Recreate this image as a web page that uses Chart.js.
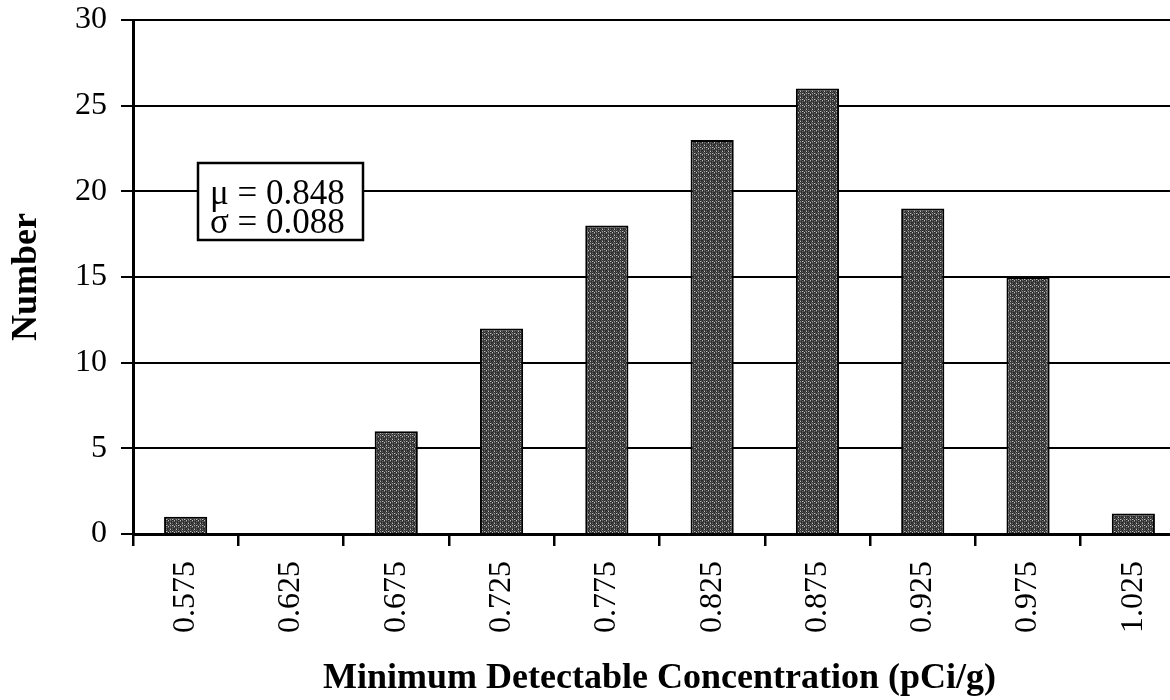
<!DOCTYPE html>
<html>
<head>
<meta charset="utf-8">
<script src="https://cdn.jsdelivr.net/npm/chart.js@4.4.1/dist/chart.umd.min.js"></script>
<style>
    html, body { margin: 0; padding: 0; background: #fff; overflow: hidden; }
    #wrap { width: 1170px; height: 700px; overflow: hidden; }
</style>
</head>
<body>
<div id="wrap"><canvas id="mdcChart" width="1188" height="700"></canvas></div>
<script>
// histogram bins (pCi/g) and counts
var binLabels = ['0.575', '0.625', '0.675', '0.725', '0.775', '0.825', '0.875', '0.925', '0.975', '1.025'];
var binCounts = [1, 0, 6, 12, 18, 23, 26, 19, 15, 1.2];
var yTicks = { min: 0, max: 30, step: 5 };
var statsLines = ['\u03bc = 0.848', '\u03c3 = 0.088'];

var serif = "'Liberation Serif', 'Times New Roman', serif";

// grey stipple like the scanned bars
function makeStipple() {
    var rows = [
        'dkmdkd',
        'kdhdmd',
        'dmdkdk',
        'dkldhm',
        'hdmkdd',
        'mdkdmk'
    ];
    var shade = { d: '#2c2c2c', k: '#474747', m: '#666666', l: '#959595', h: '#c0c0c0' };
    var c = document.createElement('canvas');
    c.width = 6; c.height = 6;
    var g = c.getContext('2d');
    for (var y = 0; y < 6; y++) {
        for (var x = 0; x < 6; x++) {
            g.fillStyle = shade[rows[y][x]];
            g.fillRect(x, y, 1, 1);
        }
    }
    return g.createPattern(c, 'repeat');
}

// text box with mean / sigma
var statsBox = {
    id: 'statsBox',
    afterDatasetsDraw: function(chart) {
        var ctx = chart.ctx;
        var area = chart.chartArea;
        var x0 = area.left + 65, y0 = area.top + 143;
        ctx.save();
        ctx.fillStyle = '#fff';
        ctx.fillRect(x0, y0, 165, 77);
        ctx.strokeStyle = '#000';
        ctx.lineWidth = 2.5;
        ctx.strokeRect(x0, y0, 165, 77);
        ctx.fillStyle = '#000';
        ctx.font = '35px ' + serif;
        ctx.textBaseline = 'alphabetic';
        ctx.fillText(statsLines[0], x0 + 12, y0 + 41);
        ctx.fillText(statsLines[1], x0 + 12, y0 + 70);
        ctx.restore();
    }
};

function noEdgePadding(s) {
    s.paddingTop = 0;
    s.paddingBottom = 0;
}

function initChart() {
    var el = document.getElementById('mdcChart');
    var stipple = makeStipple();
    new Chart(el, {
        type: 'bar',
        data: {
            labels: binLabels,
            datasets: [{
                data: binCounts,
                backgroundColor: stipple,
                borderColor: '#000',
                borderWidth: 2,
                barPercentage: 0.41,
                categoryPercentage: 1
            }]
        },
        options: {
            responsive: false,
            animation: false,
            layout: { padding: { top: 20, right: 2, left: 0, bottom: 0 } },
            plugins: {
                legend: { display: false },
                tooltip: { enabled: false }
            },
            scales: {
                x: {
                    offset: true,
                    grid: { offset: true, drawOnChartArea: false, color: '#000', lineWidth: 2.5, tickLength: 12 },
                    border: { color: '#000', width: 3 },
                    ticks: {
                        minRotation: 90, maxRotation: 90, padding: 15,
                        color: '#000',
                        font: { family: serif, size: 32 }
                    },
                    title: {
                        display: true,
                        text: 'Minimum Detectable Concentration (pCi/g)',
                        color: '#000',
                        font: { family: serif, size: 36, weight: 'bold' },
                        padding: { top: 0, bottom: 0 }
                    },
                    afterFit: function(s) { s.height = 166; s.paddingLeft = 0; s.paddingRight = 0; }
                },
                y: {
                    min: yTicks.min,
                    max: yTicks.max,
                    grid: { color: '#000', lineWidth: 2, tickLength: 12 },
                    border: { color: '#000', width: 3 },
                    ticks: {
                        stepSize: yTicks.step, padding: 14,
                        color: '#000',
                        font: { family: serif, size: 32 }
                    },
                    title: {
                        display: true,
                        text: 'Number',
                        color: '#000',
                        font: { family: serif, size: 36, weight: 'bold' },
                        padding: { top: 5, bottom: 0 }
                    },
                    afterFit: function(s) { s.width = 133; noEdgePadding(s); }
                }
            }
        },
        plugins: [statsBox]
    });
}

initChart();
</script>
</body>
</html>
